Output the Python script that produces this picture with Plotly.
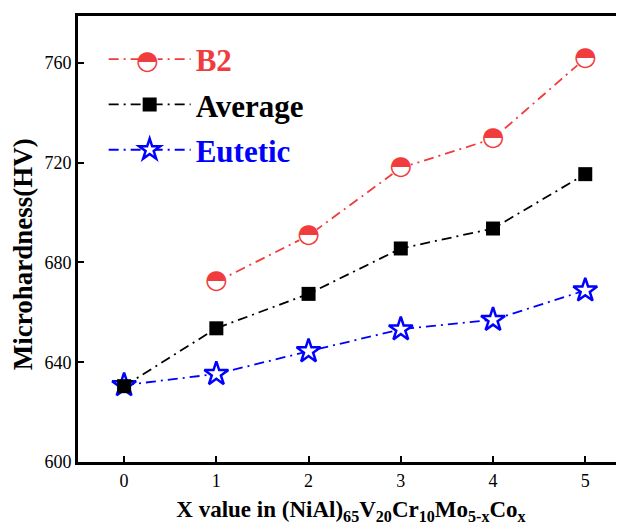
import plotly.graph_objects as go

x_b2 = [1, 2, 3, 4, 5]
b2 = [672.2, 690.8, 717.9, 729.6, 761.8]
x_all = [0, 1, 2, 3, 4, 5]
average = [630.4, 653.6, 667.4, 685.6, 693.6, 715.4]
eutetic = [630.8, 635.3, 644.4, 653.2, 657.0, 668.8]
y_ticks = [600, 640, 680, 720, 760]

RED = "#f03c3c"
BLUE = "#0000ff"
FONT = "Liberation Serif"
DASH = "10px,5px,2px,5px"

fig = go.Figure()

fig.add_trace(go.Scatter(
    x=x_b2, y=b2, mode="lines+markers", name="<span style='color:#f03c3c'>B2</span>",
    legendgroup="a", legendrank=1,
    line=dict(color=RED, width=1.8, dash=DASH),
    marker=dict(symbol="circle", size=21, color="white", line=dict(color="white", width=0)),
))
fig.add_trace(go.Scatter(
    x=x_b2, y=b2, mode="text", text=["◓"] * len(b2), showlegend=False,
    textposition="middle center", hoverinfo="skip",
    textfont=dict(family="DejaVu Sans", size=26, color=RED),
))
fig.add_trace(go.Scatter(
    x=x_all, y=eutetic, mode="lines+markers", name="<span style='color:#0000ff'>Eutetic</span>",
    legendgroup="c", legendrank=3,
    line=dict(color=BLUE, width=1.8, dash=DASH),
    marker=dict(symbol="star", size=18, color="white", line=dict(color=BLUE, width=2.5)),
))
fig.add_trace(go.Scatter(
    x=x_all, y=average, mode="lines+markers", name="<span style='color:black'>Average</span>",
    legendgroup="b", legendrank=2,
    line=dict(color="black", width=1.8, dash=DASH),
    marker=dict(symbol="square", size=14, color="black"),
))

fig.add_annotation(
    text="◓", xref="paper", yref="paper", x=0.128, y=0.901,
    xanchor="center", yanchor="middle", showarrow=False,
    font=dict(family="DejaVu Sans", size=26, color=RED),
)
fig.add_annotation(
    text="<b>Microhardness(HV)</b>", xref="paper", yref="paper", x=-0.1007, y=0.466,
    xanchor="center", yanchor="middle", showarrow=False, textangle=-90,
    font=dict(family=FONT, size=27, color="black"),
)

fig.update_layout(
    width=616, height=517,
    margin=dict(l=70, r=0, t=8, b=63, autoexpand=False),
    plot_bgcolor="white", paper_bgcolor="white",
    font=dict(family=FONT, color="black", size=18),
    showlegend=True,
    legend=dict(
        x=0.047, y=0.963, xanchor="left", yanchor="top",
        bgcolor="rgba(0,0,0,0)", itemwidth=82,
        font=dict(family=FONT, size=31, weight="bold"),
        tracegroupgap=2, traceorder="grouped",
    ),
    xaxis=dict(
        range=[-0.5, 5.42], tickvals=x_all, ticks="inside", ticklen=6, tickwidth=2,
        tickcolor="black", showline=True, linewidth=3, linecolor="black", mirror=True,
        showgrid=False, zeroline=False, automargin=False,
        tickfont=dict(family=FONT, size=18),
        title=dict(
            text="X value in (NiAl)<sub>65</sub>V<sub>20</sub>Cr<sub>10</sub>Mo<sub>5-x</sub>Co<sub>x</sub>",
            font=dict(family=FONT, size=23, weight="bold"), standoff=13,
        ),
    ),
    yaxis=dict(
        range=[600, 778.8], tickvals=y_ticks, ticks="inside", ticklen=6,
        tickwidth=2, tickcolor="black", showline=True, linewidth=3, linecolor="black",
        mirror=False, showgrid=False, zeroline=False, automargin=False,
        tickfont=dict(family=FONT, size=18),
    ),
)

fig.write_html("out.html")
